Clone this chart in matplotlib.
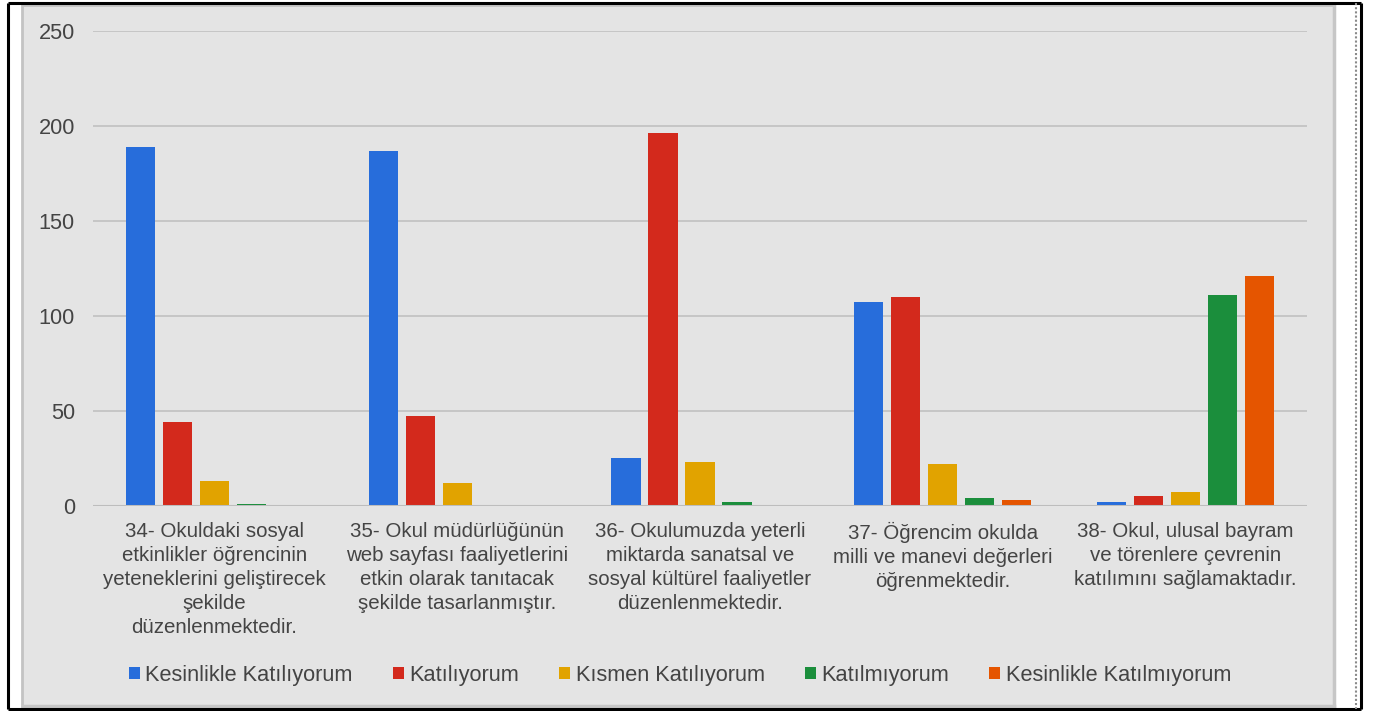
import numpy as np
import matplotlib
matplotlib.use("Agg")
import matplotlib.pyplot as plt
from matplotlib.patches import Rectangle, Patch

plt.rcParams['font.family'] = ['Liberation Sans', 'DejaVu Sans']

# Veriler
kategoriler = [
    "34- Okuldaki sosyal\netkinlikler öğrencinin\nyeteneklerini geliştirecek\nşekilde\ndüzenlenmektedir.",
    "35- Okul müdürlüğünün\nweb sayfası faaliyetlerini\netkin olarak tanıtacak\nşekilde tasarlanmıştır.",
    "36- Okulumuzda yeterli\nmiktarda sanatsal ve\nsosyal kültürel faaliyetler\ndüzenlenmektedir.",
    "37- Öğrencim okulda\nmilli ve manevi değerleri\nöğrenmektedir.",
    "38- Okul, ulusal bayram\nve törenlere çevrenin\nkatılımını sağlamaktadır.",
]
seriler = ["Kesinlikle Katılıyorum", "Katılıyorum", "Kısmen Katılıyorum",
           "Katılmıyorum", "Kesinlikle Katılmıyorum"]
kesinlikle_katiliyorum = [189, 187, 25, 107, 2]
katiliyorum = [44, 47, 196, 110, 5]
kismen_katiliyorum = [13, 12, 23, 22, 7]
katilmiyorum = [1, 0, 2, 4, 111]
kesinlikle_katilmiyorum = [0, 0, 0, 3, 121]
y_ticks = [0, 50, 100, 150, 200, 250]

degerler = [kesinlikle_katiliyorum, katiliyorum, kismen_katiliyorum,
            katilmiyorum, kesinlikle_katilmiyorum]
renkler = ['#276ddb', '#d3291c', '#e1a300', '#1b8e3c', '#e55500']
yazi_rengi = '#444444'

W, H = 1375, 711
fig = plt.figure(figsize=(W / 100, H / 100), dpi=100)

# Hintergrund / Rahmen in Pixelkoordinaten
bg = fig.add_axes([0, 0, 1, 1])
bg.set_xlim(0, W)
bg.set_ylim(H, 0)
bg.axis('off')
bg.add_patch(Rectangle((22, 5), 1312, 701, facecolor='#e4e4e4',
                       edgecolor='#c3c3c3', linewidth=2))
bg.plot([1334, 1334], [6, 707], color='#c6c6c6', lw=2.5)
bg.plot([23, 1334], [706, 706], color='#c6c6c6', lw=2.5)
bg.plot([8, 8], [3, 709], color='black', lw=2.2, solid_capstyle='butt')
bg.plot([8, 1361], [3, 3], color='black', lw=2.2, solid_capstyle='butt')
bg.plot([8, 1361], [709, 709], color='black', lw=2.2, solid_capstyle='butt')
bg.plot([1361, 1361], [3, 709], color='black', lw=2.2, solid_capstyle='butt')
bg.plot([1356, 1356], [3, 709], color='#8a8a8a', lw=1.5, linestyle=(0, (1, 1)))

# Diagramm
ax = fig.add_axes([93 / W, 1 - 505.5 / H, 1214 / W, 474.5 / H])
ax.set_facecolor('none')
x = np.arange(len(kategoriler))
schritt = 0.1524
breite = 0.12
for i, (name, werte, farbe) in enumerate(zip(seriler, degerler, renkler)):
    ax.bar(x + (i - 2) * schritt, werte, width=breite, color=farbe,
           label=name, zorder=3)

ax.set_xlim(-0.5, len(kategoriler) - 0.5)
ax.set_ylim(0, 250)
ax.set_yticks(y_ticks)
ax.yaxis.grid(True, color='#c6c6c6', linewidth=1.4, zorder=0)
ax.axhline(0, color='#bdbdbd', linewidth=2.2, zorder=4)
for s in ax.spines.values():
    s.set_visible(False)
ax.set_xticks(x)
ax.set_xticklabels(kategoriler, fontsize=14.8, color=yazi_rengi,
                   linespacing=1.33, ha='center', va='top')
ax.tick_params(axis='x', length=0, pad=12)
ax.tick_params(axis='y', length=0, pad=13, labelsize=15.7, labelcolor=yazi_rengi)

handles = [Patch(facecolor=c, edgecolor='none') for c in renkler]
leg = fig.legend(handles, seriler, loc='center', ncol=5,
                 bbox_to_anchor=(680 / W, 1 - 675 / H), frameon=False,
                 fontsize=15.7, handlelength=0.5, handleheight=0.5,
                 handletextpad=0.25, columnspacing=1.85, labelcolor=yazi_rengi)

fig.savefig('out.png', dpi=100)
